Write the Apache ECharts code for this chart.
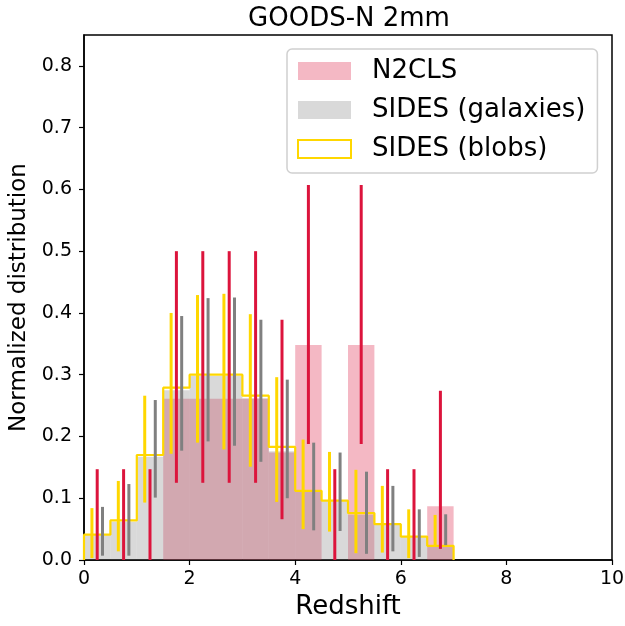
<!DOCTYPE html>
<html>
<head>
<meta charset="utf-8">
<script src="https://cdn.jsdelivr.net/npm/echarts@6/dist/echarts.min.js"></script>
<style>
html,body{margin:0;padding:0;background:#fff;}
#chart{width:625px;height:626px;}
</style>
</head>
<body>
<div id="chart"></div>
<script>
// Bin left edges (redshift), bin width 0.5
const binLeft = [0, 0.5, 1, 1.5, 2, 2.5, 3, 3.5, 4, 4.5, 5, 5.5, 6, 6.5];
const binWidth = 0.5;

// N2CLS normalized distribution + error range
const n2cls        = [0, 0, 0, 0.261, 0.261, 0.261, 0.261, 0.174, 0.348, 0, 0.348, 0, 0, 0.087];
const n2clsErrLow  = [0, 0, 0, 0.125, 0.125, 0.125, 0.125, 0.066, 0.188, 0, 0.188, 0, 0, 0.018];
const n2clsErrHigh = [0.147, 0.147, 0.147, 0.5, 0.5, 0.5, 0.5, 0.389, 0.607, 0.147, 0.607, 0.147, 0.147, 0.274];

// SIDES (galaxies)
const galaxies    = [0.040, 0.062, 0.167, 0.275, 0.298, 0.298, 0.262, 0.176, 0.110, 0.095, 0.073, 0.058, 0.037, 0.022];
const galErrLow   = [0.007, 0.007, 0.101, 0.177, 0.192, 0.185, 0.159, 0.100, 0.048, 0.047, 0.010, 0.014, 0.005, 0.024];
const galErrHigh  = [0.086, 0.123, 0.259, 0.395, 0.424, 0.425, 0.389, 0.292, 0.190, 0.174, 0.143, 0.120, 0.082, 0.074];

// SIDES (blobs)
const blobs       = [0.041, 0.064, 0.170, 0.279, 0.300, 0.300, 0.266, 0.183, 0.112, 0.096, 0.076, 0.058, 0.038, 0.023];
const blobErrLow  = [0.003, 0.014, 0.093, 0.172, 0.190, 0.179, 0.151, 0.094, 0.050, 0.046, 0.011, 0.012, 0.003, 0.024];
const blobErrHigh = [0.084, 0.128, 0.266, 0.400, 0.429, 0.431, 0.398, 0.296, 0.195, 0.175, 0.146, 0.120, 0.082, 0.073];

const yTicks = [0, 0.1, 0.2, 0.3, 0.4, 0.5, 0.6, 0.7, 0.8];
const xTicks = [0, 2, 4, 6, 8, 10];

const FONT = 'DejaVu Sans';
const PINK = 'rgba(220,20,60,0.3)';
const GREY = 'rgba(128,128,128,0.3)';
const GOLD = '#FFD700';
const RED = '#DC143C';
const DGREY = '#808080';

function barData(vals) {
  return vals.map((v, i) => [binLeft[i], binLeft[i] + binWidth, v]);
}
function errData(lo, hi, offset) {
  return lo.map((l, i) => [binLeft[i] + binWidth / 2 + offset, l, hi[i]]);
}
function stepData(vals) {
  const pts = [[binLeft[0], 0]];
  vals.forEach((v, i) => {
    pts.push([binLeft[i], v]);
    pts.push([binLeft[i] + binWidth, v]);
  });
  pts.push([binLeft[binLeft.length - 1] + binWidth, 0]);
  return pts;
}
function barRender(color) {
  return function (params, api) {
    const p0 = api.coord([api.value(0), api.value(2)]);
    const p1 = api.coord([api.value(1), 0]);
    return {
      type: 'rect',
      shape: { x: p0[0], y: p0[1], width: p1[0] - p0[0], height: p1[1] - p0[1] },
      style: { fill: color }
    };
  };
}
function errRender(color) {
  return function (params, api) {
    const a = api.coord([api.value(0), api.value(1)]);
    const b = api.coord([api.value(0), api.value(2)]);
    return {
      type: 'line',
      shape: { x1: a[0], y1: a[1], x2: b[0], y2: b[1] },
      style: { stroke: color, lineWidth: 3 }
    };
  };
}

const chart = echarts.init(document.getElementById('chart'), null, { renderer: 'canvas' });
chart.setOption({
  animation: false,
  textStyle: { fontFamily: FONT },
  title: {
    text: 'GOODS-N 2mm',
    left: 344, top: 1, textAlign: 'center',
    textStyle: { fontFamily: FONT, fontSize: 26, fontWeight: 'normal', color: '#000' }
  },
  grid: {
    left: 84, right: 13, top: 35, bottom: 66,
    outerBoundsMode: 'none', containLabel: false,
    show: true, borderColor: '#000', borderWidth: 1.5, backgroundColor: 'transparent'
  },
  legend: {
    left: 287, top: 49,
    orient: 'vertical',
    itemWidth: 53, itemHeight: 18, itemGap: 13,
    padding: [9, 12, 11, 10],
    borderColor: '#d0d0d0', borderWidth: 1.5, borderRadius: 5,
    backgroundColor: 'rgba(255,255,255,0.8)',
    textStyle: { fontFamily: FONT, fontSize: 26, color: '#000', padding: [0, 0, 0, 16] },
    data: [
      { name: 'N2CLS', icon: 'rect', itemStyle: { color: PINK, borderWidth: 0 } },
      { name: 'SIDES (galaxies)', icon: 'rect', itemStyle: { color: GREY, borderWidth: 0 } },
      { name: 'SIDES (blobs)', icon: 'rect', itemStyle: { color: 'rgba(255,255,255,0)', borderColor: GOLD, borderWidth: 2 }, lineStyle: { width: 0 } }
    ]
  },
  xAxis: {
    type: 'value', min: 0, max: 10, interval: 2,
    name: 'Redshift', nameLocation: 'middle', nameGap: 33,
    nameTextStyle: { fontFamily: FONT, fontSize: 26, color: '#000' },
    axisLine: { show: true, onZero: false, lineStyle: { color: '#000', width: 1.5 } },
    axisTick: { show: true, length: 5, lineStyle: { color: '#000', width: 1.2 }, customValues: xTicks },
    axisLabel: { fontFamily: FONT, fontSize: 19, color: '#000', margin: 10, customValues: xTicks },
    splitLine: { show: false }
  },
  yAxis: {
    type: 'value', min: 0, max: 0.85, interval: 0.1,
    name: 'Normalized distribution', nameLocation: 'middle', nameGap: 46,
    nameTextStyle: { fontFamily: FONT, fontSize: 23, color: '#000' },
    axisLine: { show: true, onZero: false, lineStyle: { color: '#000', width: 1.5 } },
    axisTick: { show: true, length: 5, lineStyle: { color: '#000', width: 1.2 }, customValues: yTicks },
    axisLabel: { fontFamily: FONT, fontSize: 19, color: '#000', margin: 12, customValues: yTicks,
      formatter: v => v.toFixed(1) },
    splitLine: { show: false }
  },
  series: [
    {
      name: 'N2CLS', type: 'custom', renderItem: barRender(PINK),
      itemStyle: { color: PINK },
      encode: { x: [0, 1], y: 2 }, data: barData(n2cls), z: 1
    },
    {
      name: 'SIDES (galaxies)', type: 'custom', renderItem: barRender(GREY),
      itemStyle: { color: GREY },
      encode: { x: [0, 1], y: 2 }, data: barData(galaxies), z: 2
    },
    {
      name: 'SIDES (blobs)', type: 'line', data: stepData(blobs),
      showSymbol: false, symbol: 'none', itemStyle: { color: GOLD },
      lineStyle: { color: GOLD, width: 2.2 }, z: 3
    },
    {
      name: 'errN2CLS', type: 'custom', renderItem: errRender(RED),
      encode: { x: 0, y: [1, 2] }, data: errData(n2clsErrLow, n2clsErrHigh, 0), z: 4
    },
    {
      name: 'errGal', type: 'custom', renderItem: errRender(DGREY),
      encode: { x: 0, y: [1, 2] }, data: errData(galErrLow, galErrHigh, 0.1), z: 4
    },
    {
      name: 'errBlob', type: 'custom', renderItem: errRender(GOLD),
      encode: { x: 0, y: [1, 2] }, data: errData(blobErrLow, blobErrHigh, -0.1), z: 4
    }
  ]
});
</script>
</body>
</html>
